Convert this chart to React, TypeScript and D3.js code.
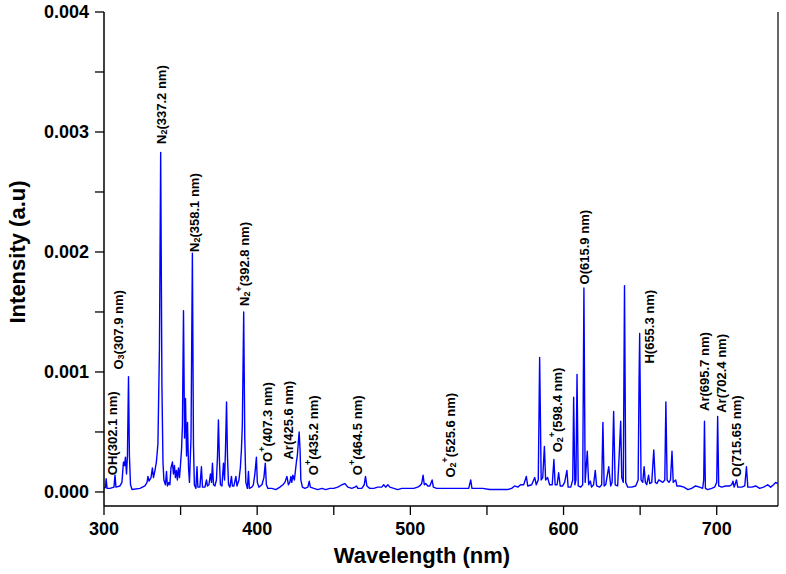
import React from "react";
import * as d3 from "d3";

// Spectrum points: [wavelength (nm), intensity (×1e-3 a.u.)]
const spectrum: [number, number][] = [
  [300.0, 0.03], [301.0, 0.04], [301.4, 0.11], [302.0, 0.03], [303.9, 0.03], [306.5, 0.04], [307.2, 0.14], [307.8, 0.04],
  [310.4, 0.05], [311.7, 0.08], [312.7, 0.25], [313.4, 0.22], [314.0, 0.29], [314.7, 0.15], [315.3, 0.30], [316.0, 0.96],
  [316.6, 0.30], [317.3, 0.06], [318.3, 0.02], [323.5, 0.03], [326.7, 0.05], [328.1, 0.08], [328.7, 0.13], [329.4, 0.09],
  [330.7, 0.12], [331.6, 0.20], [332.3, 0.12], [333.3, 0.18], [334.2, 0.25], [335.2, 0.40], [336.2, 1.2], [337.0, 2.83],
  [337.8, 0.9], [338.5, 0.25], [339.1, 0.10], [340.1, 0.06], [340.8, 0.17], [341.4, 0.05], [342.4, 0.08], [343.0, 0.06],
  [343.7, 0.20], [344.7, 0.25], [345.3, 0.15], [346.0, 0.22], [346.6, 0.12], [347.3, 0.18], [347.9, 0.10], [348.6, 0.20],
  [349.3, 0.12], [349.9, 0.22], [350.6, 0.35], [351.2, 0.55], [351.9, 1.51], [352.6, 0.45], [353.2, 0.78], [353.9, 0.30],
  [354.5, 0.58], [355.2, 0.20], [355.8, 0.08], [356.8, 0.45], [357.7, 1.99], [358.4, 0.40], [359.0, 0.06], [360.0, 0.03],
  [360.7, 0.21], [361.3, 0.04], [362.6, 0.04], [363.6, 0.21], [364.3, 0.04], [365.9, 0.04], [366.9, 0.10], [367.5, 0.05],
  [368.5, 0.06], [369.5, 0.15], [370.2, 0.08], [370.8, 0.24], [371.5, 0.06], [372.4, 0.05], [373.4, 0.10], [374.1, 0.30],
  [374.7, 0.60], [375.4, 0.25], [376.0, 0.06], [377.0, 0.05], [378.0, 0.24], [378.7, 0.10], [379.3, 0.35], [380.0, 0.75],
  [380.6, 0.30], [381.3, 0.06], [382.2, 0.04], [383.2, 0.13], [383.8, 0.05], [384.8, 0.05], [386.1, 0.13], [386.8, 0.05],
  [388.1, 0.10], [389.0, 0.20], [389.7, 0.35], [390.3, 0.55], [391.2, 1.50], [391.9, 0.45], [392.6, 0.08], [393.6, 0.03],
  [394.3, 0.17], [394.9, 0.03], [396.5, 0.04], [397.5, 0.06], [398.5, 0.15], [399.5, 0.29], [400.1, 0.08], [401.1, 0.04],
  [403.1, 0.06], [404.4, 0.12], [405.3, 0.24], [406.0, 0.06], [407.0, 0.03], [409.6, 0.03], [412.2, 0.02], [414.8, 0.04],
  [416.8, 0.06], [418.1, 0.08], [419.4, 0.13], [420.4, 0.06], [421.3, 0.08], [422.0, 0.13], [422.6, 0.08], [423.3, 0.14],
  [424.3, 0.10], [424.9, 0.17], [425.6, 0.25], [426.2, 0.30], [426.9, 0.42], [427.4, 0.50], [428.0, 0.35], [428.5, 0.10],
  [429.5, 0.04], [431.1, 0.03], [433.1, 0.04], [434.0, 0.09], [434.7, 0.04], [437.0, 0.03], [439.6, 0.02], [442.2, 0.03],
  [444.8, 0.02], [447.4, 0.03], [450.0, 0.03], [452.6, 0.04], [455.3, 0.06], [457.2, 0.07], [459.2, 0.04], [461.8, 0.03],
  [463.7, 0.04], [464.8, 0.05], [465.7, 0.03], [468.3, 0.03], [469.9, 0.06], [470.7, 0.13], [471.6, 0.05], [473.5, 0.03],
  [476.1, 0.03], [478.7, 0.04], [481.3, 0.04], [482.6, 0.06], [483.9, 0.04], [485.3, 0.06], [486.6, 0.04], [489.2, 0.03],
  [491.8, 0.02], [494.4, 0.03], [497.0, 0.03], [499.6, 0.03], [502.2, 0.03], [504.8, 0.04], [506.1, 0.05], [507.4, 0.07],
  [508.3, 0.14], [509.1, 0.06], [510.0, 0.07], [511.4, 0.05], [512.7, 0.05], [514.2, 0.10], [515.0, 0.04], [517.2, 0.03],
  [520.5, 0.03], [523.7, 0.03], [527.0, 0.03], [530.9, 0.03], [534.8, 0.03], [538.1, 0.03], [539.4, 0.10], [540.2, 0.03],
  [543.3, 0.03], [547.2, 0.03], [551.8, 0.02], [555.7, 0.02], [559.6, 0.02], [563.5, 0.02], [566.1, 0.03], [568.1, 0.05],
  [570.1, 0.04], [572.0, 0.06], [574.0, 0.06], [575.7, 0.13], [576.6, 0.05], [579.2, 0.06], [581.2, 0.12], [582.2, 0.06],
  [583.5, 0.10], [584.4, 1.12], [585.4, 0.10], [586.4, 0.12], [587.5, 0.38], [588.3, 0.10], [589.6, 0.12], [590.9, 0.06],
  [592.6, 0.06], [593.7, 0.27], [594.5, 0.06], [595.8, 0.06], [596.8, 0.16], [597.8, 0.05], [599.4, 0.05], [600.7, 0.08],
  [602.2, 0.18], [603.0, 0.04], [604.7, 0.04], [606.0, 0.10], [606.6, 0.79], [607.4, 0.06], [608.1, 0.10], [608.8, 0.98],
  [609.6, 0.05], [611.2, 0.04], [612.5, 0.06], [613.3, 1.70], [614.1, 0.08], [615.5, 0.34], [616.4, 0.06], [617.5, 0.09],
  [618.3, 0.04], [619.6, 0.06], [620.7, 0.18], [621.6, 0.05], [623.6, 0.04], [624.9, 0.06], [625.7, 0.58], [626.5, 0.05],
  [627.5, 0.06], [629.5, 0.21], [630.8, 0.05], [631.7, 0.08], [632.7, 0.67], [633.7, 0.06], [635.3, 0.05], [636.3, 0.30],
  [637.3, 0.59], [638.0, 0.12], [639.0, 0.08], [639.8, 1.72], [640.6, 0.08], [641.9, 0.04], [644.5, 0.04], [647.1, 0.05],
  [648.7, 0.10], [649.3, 0.93], [649.7, 1.32], [650.6, 0.10], [651.7, 0.08], [652.6, 0.21], [653.4, 0.08], [654.3, 0.06],
  [655.5, 0.14], [656.3, 0.07], [657.6, 0.08], [658.9, 0.35], [659.9, 0.08], [660.9, 0.07], [662.2, 0.10], [663.5, 0.09],
  [664.8, 0.08], [666.1, 0.10], [666.8, 0.75], [667.6, 0.10], [668.8, 0.08], [669.8, 0.10], [670.8, 0.34], [671.6, 0.08],
  [673.2, 0.10], [674.0, 0.05], [676.0, 0.05], [678.6, 0.04], [681.2, 0.02], [683.6, 0.03], [686.2, 0.05], [688.8, 0.04],
  [690.8, 0.03], [691.5, 0.10], [692.0, 0.59], [692.6, 0.03], [694.1, 0.02], [696.7, 0.03], [698.6, 0.04], [700.0, 0.08],
  [700.6, 0.63], [701.3, 0.05], [703.2, 0.04], [705.8, 0.05], [708.5, 0.05], [709.8, 0.06], [710.6, 0.09], [711.4, 0.04],
  [712.9, 0.10], [713.7, 0.04], [716.3, 0.04], [718.3, 0.05], [719.4, 0.21], [720.3, 0.04], [722.9, 0.04], [725.5, 0.05],
  [728.0, 0.03], [730.6, 0.04], [733.3, 0.06], [735.2, 0.04], [737.1, 0.06], [738.5, 0.08], [739.8, 0.07],
];

const xTicks = [300, 400, 500, 600, 700];
const xMinorTicks = [350, 450, 550, 650];
const yTicks = [0, 0.001, 0.002, 0.003, 0.004];
const yTickLabels = ["0.000", "0.001", "0.002", "0.003", "0.004"];
const yMinorTicks = [0.0005, 0.0015, 0.0025, 0.0035];

type Seg = { t: string; k?: "sub" | "sup" };
// Line annotations: centre wavelength of the label, intensity (×1e-3) at its lower end
const lineLabels: { wl: number; at: number; segs: Seg[] }[] = [
  { wl: 305.2, at: 0.14, segs: [{ t: "OH(302.1 nm)" }] },
  { wl: 309.1, at: 1.02, segs: [{ t: "O" }, { t: "3", k: "sub" }, { t: "(307.9 nm)" }] },
  { wl: 337.2, at: 2.9, segs: [{ t: "N" }, { t: "2", k: "sub" }, { t: "(337.2 nm)" }] },
  { wl: 358.9, at: 2.0, segs: [{ t: "N" }, { t: "2", k: "sub" }, { t: "(358.1 nm)" }] },
  { wl: 391.6, at: 1.55, segs: [{ t: "N" }, { t: "2", k: "sub" }, { t: "+", k: "sup" }, { t: "(392.8 nm)" }] },
  { wl: 406.3, at: 0.25, segs: [{ t: "O" }, { t: "+", k: "sup" }, { t: "(407.3 nm)" }] },
  { wl: 420.0, at: 0.27, segs: [{ t: "Ar(425.6 nm)" }] },
  { wl: 436.3, at: 0.14, segs: [{ t: "O" }, { t: "+", k: "sup" }, { t: "(435.2 nm)" }] },
  { wl: 465.0, at: 0.14, segs: [{ t: "O" }, { t: "+", k: "sup" }, { t: "(464.5 nm)" }] },
  { wl: 525.7, at: 0.12, segs: [{ t: "O" }, { t: "2", k: "sub" }, { t: "+", k: "sup" }, { t: "(525.6 nm)" }] },
  { wl: 595.8, at: 0.33, segs: [{ t: "O" }, { t: "2", k: "sub" }, { t: "+", k: "sup" }, { t: "(598.4 nm)" }] },
  { wl: 613.1, at: 1.73, segs: [{ t: "O(615.9 nm)" }] },
  { wl: 655.5, at: 1.07, segs: [{ t: "H(655.3 nm)" }] },
  { wl: 691.4, at: 0.675, segs: [{ t: "Ar(695.7 nm)" }] },
  { wl: 702.8, at: 0.66, segs: [{ t: "Ar(702.4 nm)" }] },
  { wl: 712.9, at: 0.125, segs: [{ t: "O(715.65 nm)" }] },
];

const W = 786;
const H = 574;
const FONT = "'Liberation Sans', Arial, Helvetica, sans-serif";

export default function App() {
  const x = d3.scaleLinear().domain([300, 740]).range([104, 778]);
  const y = d3.scaleLinear().domain([-0.000117, 0.004]).range([506, 12]);
  const line = d3
    .line<[number, number]>()
    .x((d) => x(d[0]))
    .y((d) => y(d[1] * 1e-3));

  const axisY = y.range()[0];
  const axisX = x.range()[0];
  const tickLen = 9;

  const renderSegs = (segs: Seg[]) => {
    const out: React.ReactNode[] = [];
    let offset = 0;
    segs.forEach((s, i) => {
      let target = 0;
      let size: number | undefined;
      if (s.k === "sub") {
        target = 3;
        size = 9;
      } else if (s.k === "sup") {
        target = -5;
        size = 9;
      }
      const dy = target - offset;
      offset = target;
      out.push(
        <tspan key={i} dy={dy} fontSize={size}>
          {s.t}
        </tspan>
      );
    });
    return out;
  };

  return (
    <svg
      width={W}
      height={H}
      style={{ position: "absolute", left: 0, top: 0, background: "#fff" }}
      fontFamily={FONT}
    >
      <path d={line(spectrum) || ""} fill="none" stroke="#0000ff" strokeWidth={1.4} strokeLinejoin="round" />

      {/* axes */}
      <line x1={axisX} x2={axisX} y1={y(0.004)} y2={axisY} stroke="#000" strokeWidth={1.5} />
      <line x1={axisX} x2={x(740)} y1={axisY} y2={axisY} stroke="#000" strokeWidth={1.5} />
      <line x1={x(740)} x2={x(740)} y1={y(0.004)} y2={axisY} stroke="#000" strokeWidth={1.2} />

      {yTicks.map((t, i) => (
        <g key={"yt" + t}>
          <line x1={axisX - tickLen} x2={axisX} y1={y(t)} y2={y(t)} stroke="#000" strokeWidth={1.3} />
          <text
            x={axisX - tickLen - 6}
            y={y(t)}
            textAnchor="end"
            dominantBaseline="central"
            fontSize={18}
            fontWeight="bold"
          >
            {yTickLabels[i]}
          </text>
        </g>
      ))}
      {yMinorTicks.map((t) => (
        <line key={"ym" + t} x1={axisX - tickLen} x2={axisX} y1={y(t)} y2={y(t)} stroke="#000" strokeWidth={1.3} />
      ))}
      {xTicks.map((t) => (
        <g key={"xt" + t}>
          <line x1={x(t)} x2={x(t)} y1={axisY} y2={axisY + tickLen} stroke="#000" strokeWidth={1.3} />
          <text x={x(t)} y={axisY + 29} textAnchor="middle" fontSize={18} fontWeight="bold">
            {t}
          </text>
        </g>
      ))}
      {xMinorTicks.map((t) => (
        <line key={"xm" + t} x1={x(t)} x2={x(t)} y1={axisY} y2={axisY + tickLen} stroke="#000" strokeWidth={1.3} />
      ))}

      {/* axis titles */}
      <text x={422} y={563} textAnchor="middle" fontSize={22} fontWeight="bold">
        Wavelength (nm)
      </text>
      <text
        transform={`translate(25, 252) rotate(-90)`}
        textAnchor="middle"
        fontSize={22}
        fontWeight="bold"
      >
        Intensity (a.u)
      </text>

      {/* peak annotations */}
      {lineLabels.map((l, i) => (
        <text
          key={"lab" + i}
          transform={`translate(${x(l.wl)}, ${y(l.at * 1e-3)}) rotate(-90)`}
          fontSize={13}
          fontWeight="bold"
          dominantBaseline="central"
        >
          {renderSegs(l.segs)}
        </text>
      ))}
    </svg>
  );
}
